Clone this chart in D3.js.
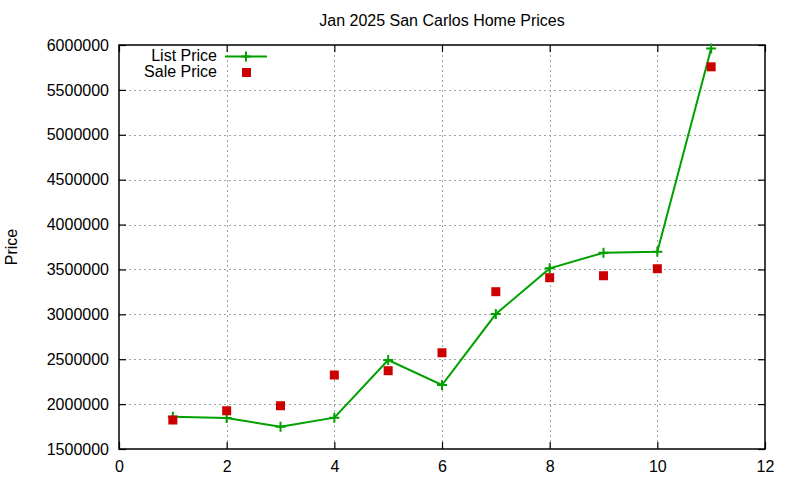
<!DOCTYPE html>
<html>
<head>
<meta charset="utf-8">
<script src="https://cdn.jsdelivr.net/npm/d3@7"></script>
<style>
  body { margin: 0; background: #fff; }
  text { font-family: "Liberation Sans", Arial, sans-serif; fill: #000; }
</style>
</head>
<body>
<svg id="svg" width="800" height="480"></svg>
<script>
    // data
    var months = [1, 2, 3, 4, 5, 6, 7, 8, 9, 10, 11];
    var listPrice = [1860000, 1845000, 1748000, 1849000, 2491000, 2213000, 3003000, 3512000, 3686000, 3697000, 5962000];
    var salePrice = [1823000, 1926000, 1982000, 2324000, 2372000, 2572000, 3252000, 3408000, 3430000, 3508000, 5757000];
    var xTicks = [0, 2, 4, 6, 8, 10, 12];
    var yTicks = [1500000, 2000000, 2500000, 3000000, 3500000, 4000000, 4500000, 5000000, 5500000, 6000000];

    var svg = d3.select("#svg"),
        pLeft = 119, pRight = 765, pTop = 45, pBottom = 449;

    var x = d3.scaleLinear().domain([0, 12]).range([pLeft, pRight]);
    var y = d3.scaleLinear().domain([1500000, 6000000]).range([pBottom, pTop]);

    // grid
    var grid = svg.append("g").attr("stroke", "#a0a0a0").attr("stroke-dasharray", "2,3").attr("stroke-width", 1);
    grid.selectAll(".gx").data(xTicks.slice(1, -1)).enter().append("line")
        .attr("x1", function (d) { return Math.round(x(d)) + 0.5; })
        .attr("x2", function (d) { return Math.round(x(d)) + 0.5; })
        .attr("y1", pTop).attr("y2", pBottom);
    grid.selectAll(".gy").data(yTicks.slice(1, -1)).enter().append("line")
        .attr("y1", function (d) { return Math.round(y(d)) + 0.5; })
        .attr("y2", function (d) { return Math.round(y(d)) + 0.5; })
        .attr("x1", pLeft).attr("x2", pRight);

    // axes: ticks pointing inward, mirrored
    var fs = "16px";
    svg.append("g").attr("transform", "translate(0," + pBottom + ")")
        .call(d3.axisBottom(x).tickValues(xTicks).tickSize(-7).tickPadding(12))
        .call(function (g) { g.select(".domain").remove(); g.selectAll("text").style("font-size", fs).attr("font-family", null); });
    svg.append("g").attr("transform", "translate(0," + pTop + ")")
        .call(d3.axisTop(x).tickValues(xTicks).tickSize(-7).tickFormat(""))
        .call(function (g) { g.select(".domain").remove(); });
    svg.append("g").attr("transform", "translate(" + pLeft + ",0)")
        .call(d3.axisLeft(y).tickValues(yTicks).tickSize(-7).tickPadding(10).tickFormat(d3.format("d")))
        .call(function (g) { g.select(".domain").remove(); g.selectAll("text").style("font-size", fs).attr("font-family", null); });
    svg.append("g").attr("transform", "translate(" + pRight + ",0)")
        .call(d3.axisRight(y).tickValues(yTicks).tickSize(-7).tickFormat(""))
        .call(function (g) { g.select(".domain").remove(); });
    svg.selectAll(".tick line").attr("stroke", "#000").attr("stroke-width", 1.2);

    svg.append("rect")
        .attr("x", pLeft).attr("y", pTop).attr("width", pRight - pLeft).attr("height", pBottom - pTop)
        .attr("fill", "none").attr("stroke", "#000").attr("stroke-width", 1.5);

    // title and y label
    svg.append("text").attr("x", (pLeft + pRight) / 2).attr("y", 26).attr("text-anchor", "middle")
        .style("font-size", "16px").text("Jan 2025 San Carlos Home Prices");
    svg.append("text").attr("transform", "translate(17,247) rotate(-90)").attr("text-anchor", "middle")
        .style("font-size", "16px").text("Price");

    // list price line
    var line = d3.line()
        .x(function (d, i) { return x(months[i]); })
        .y(function (d) { return y(d); });
    svg.append("path").datum(listPrice)
        .attr("d", line).attr("fill", "none").attr("stroke", "#00a000").attr("stroke-width", 2);

    function plus(g, cx, cy) {
        g.append("path")
            .attr("d", "M" + (cx - 5) + "," + cy + "H" + (cx + 5) + "M" + cx + "," + (cy - 5) + "V" + (cy + 5))
            .attr("stroke", "#00a000").attr("stroke-width", 2);
    }
    var pts = svg.append("g");
    listPrice.forEach(function (d, i) { plus(pts, x(months[i]), y(d)); });

    // sale price squares
    svg.selectAll(".sale").data(salePrice).enter().append("rect")
        .attr("class", "sale")
        .attr("x", function (d, i) { return x(months[i]) - 4.5; })
        .attr("y", function (d) { return y(d) - 4.5; })
        .attr("width", 9).attr("height", 9)
        .attr("fill", "#cc0000");

    // legend
    svg.append("text").attr("x", 217).attr("y", 61).attr("text-anchor", "end")
        .style("font-size", "16px").text("List Price");
    svg.append("line").attr("x1", 225).attr("x2", 267).attr("y1", 56.5).attr("y2", 56.5)
        .attr("stroke", "#00a000").attr("stroke-width", 2);
    plus(svg, 246, 56.5);
    svg.append("text").attr("x", 217).attr("y", 77).attr("text-anchor", "end")
        .style("font-size", "16px").text("Sale Price");
    svg.append("rect").attr("x", 242).attr("y", 68).attr("width", 9).attr("height", 9).attr("fill", "#cc0000");
</script>
</body>
</html>
